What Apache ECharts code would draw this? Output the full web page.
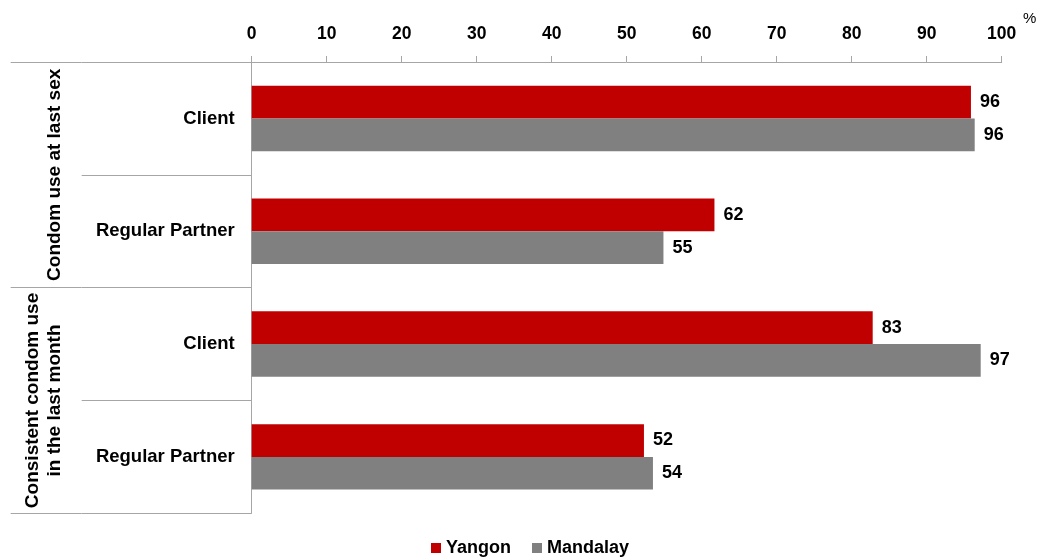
<!DOCTYPE html>
<html>
<head>
<meta charset="utf-8">
<script src="https://cdn.jsdelivr.net/npm/echarts@6/dist/echarts.min.js"></script>
<style>html,body{margin:0;padding:0;background:#fff}#c{width:1048px;height:558px}</style>
</head>
<body>
<div id="c"></div>
<script>
var categories = ['Client', 'Regular Partner', 'Client', 'Regular Partner'];
var groups = ['Condom use at last sex', 'Consistent condom use\nin the last month'];
var yangon = [95.9, 61.7, 82.8, 52.3];
var mandalay = [96.4, 54.9, 97.2, 53.5];
var seriesNames = ['Yangon', 'Mandalay'];
var xTicks = { min: 0, max: 100, interval: 10 };

var FONT = 'Arial, "Liberation Sans", sans-serif';
var AXIS = '#a6a6a6';
var chart = echarts.init(document.getElementById('c'));
var labelCfg = {
  show: true, position: 'right', distance: 9,
  fontFamily: FONT, fontSize: 18, fontWeight: 'bold', color: '#000',
  formatter: function (p) { return Math.round(p.value); }
};
chart.setOption({
  animation: false,
  title: { text: '%', left: 1023, top: 11, padding: 0, textStyle: { fontFamily: FONT, fontSize: 15, fontWeight: 'normal', color: '#000' } },
  grid: { left: 251.7, right: 46.3, top: 62, bottom: 44.7 },
  legend: {
    data: seriesNames, top: 539, left: 431, itemWidth: 10, itemHeight: 10, itemGap: 21, padding: 0,
    icon: 'rect',
    textStyle: { fontFamily: FONT, fontSize: 18, fontWeight: 'bold', color: '#000' }
  },
  xAxis: {
    type: 'value', position: 'top', min: xTicks.min, max: xTicks.max, interval: xTicks.interval,
    axisLine: { show: true, lineStyle: { color: AXIS } },
    axisTick: { show: true, inside: false, length: 6, lineStyle: { color: AXIS } },
    splitLine: { show: false },
    axisLabel: { margin: 19, fontFamily: FONT, fontSize: 17.5, fontWeight: 'bold', color: '#000' }
  },
  yAxis: [{
    type: 'category', data: categories, inverse: true,
    axisLine: { show: true, lineStyle: { color: AXIS } },
    axisTick: { show: true, length: 170, lineStyle: { color: AXIS } },
    axisLabel: { interval: 0, margin: 17, fontFamily: FONT, fontSize: 18.5, fontWeight: 'bold', color: '#000' }
  }, {
    type: 'category', data: groups, inverse: true, position: 'left', offset: 170,
    axisLine: { show: false },
    axisTick: { show: true, length: 71, lineStyle: { color: AXIS } },
    axisLabel: { interval: 0, rotate: 90, margin: 16, lineHeight: 22, fontFamily: FONT, fontSize: 19, fontWeight: 'bold', color: '#000' }
  }],
  series: [{
    name: seriesNames[0], type: 'bar', data: yangon, yAxisIndex: 0,
    barGap: '0%', barCategoryGap: '42%',
    itemStyle: { color: '#C00000' }, label: labelCfg
  }, {
    name: seriesNames[1], type: 'bar', data: mandalay, yAxisIndex: 0,
    barGap: '0%', barCategoryGap: '42%',
    itemStyle: { color: '#808080' }, label: labelCfg
  }]
});
</script>
</body>
</html>
